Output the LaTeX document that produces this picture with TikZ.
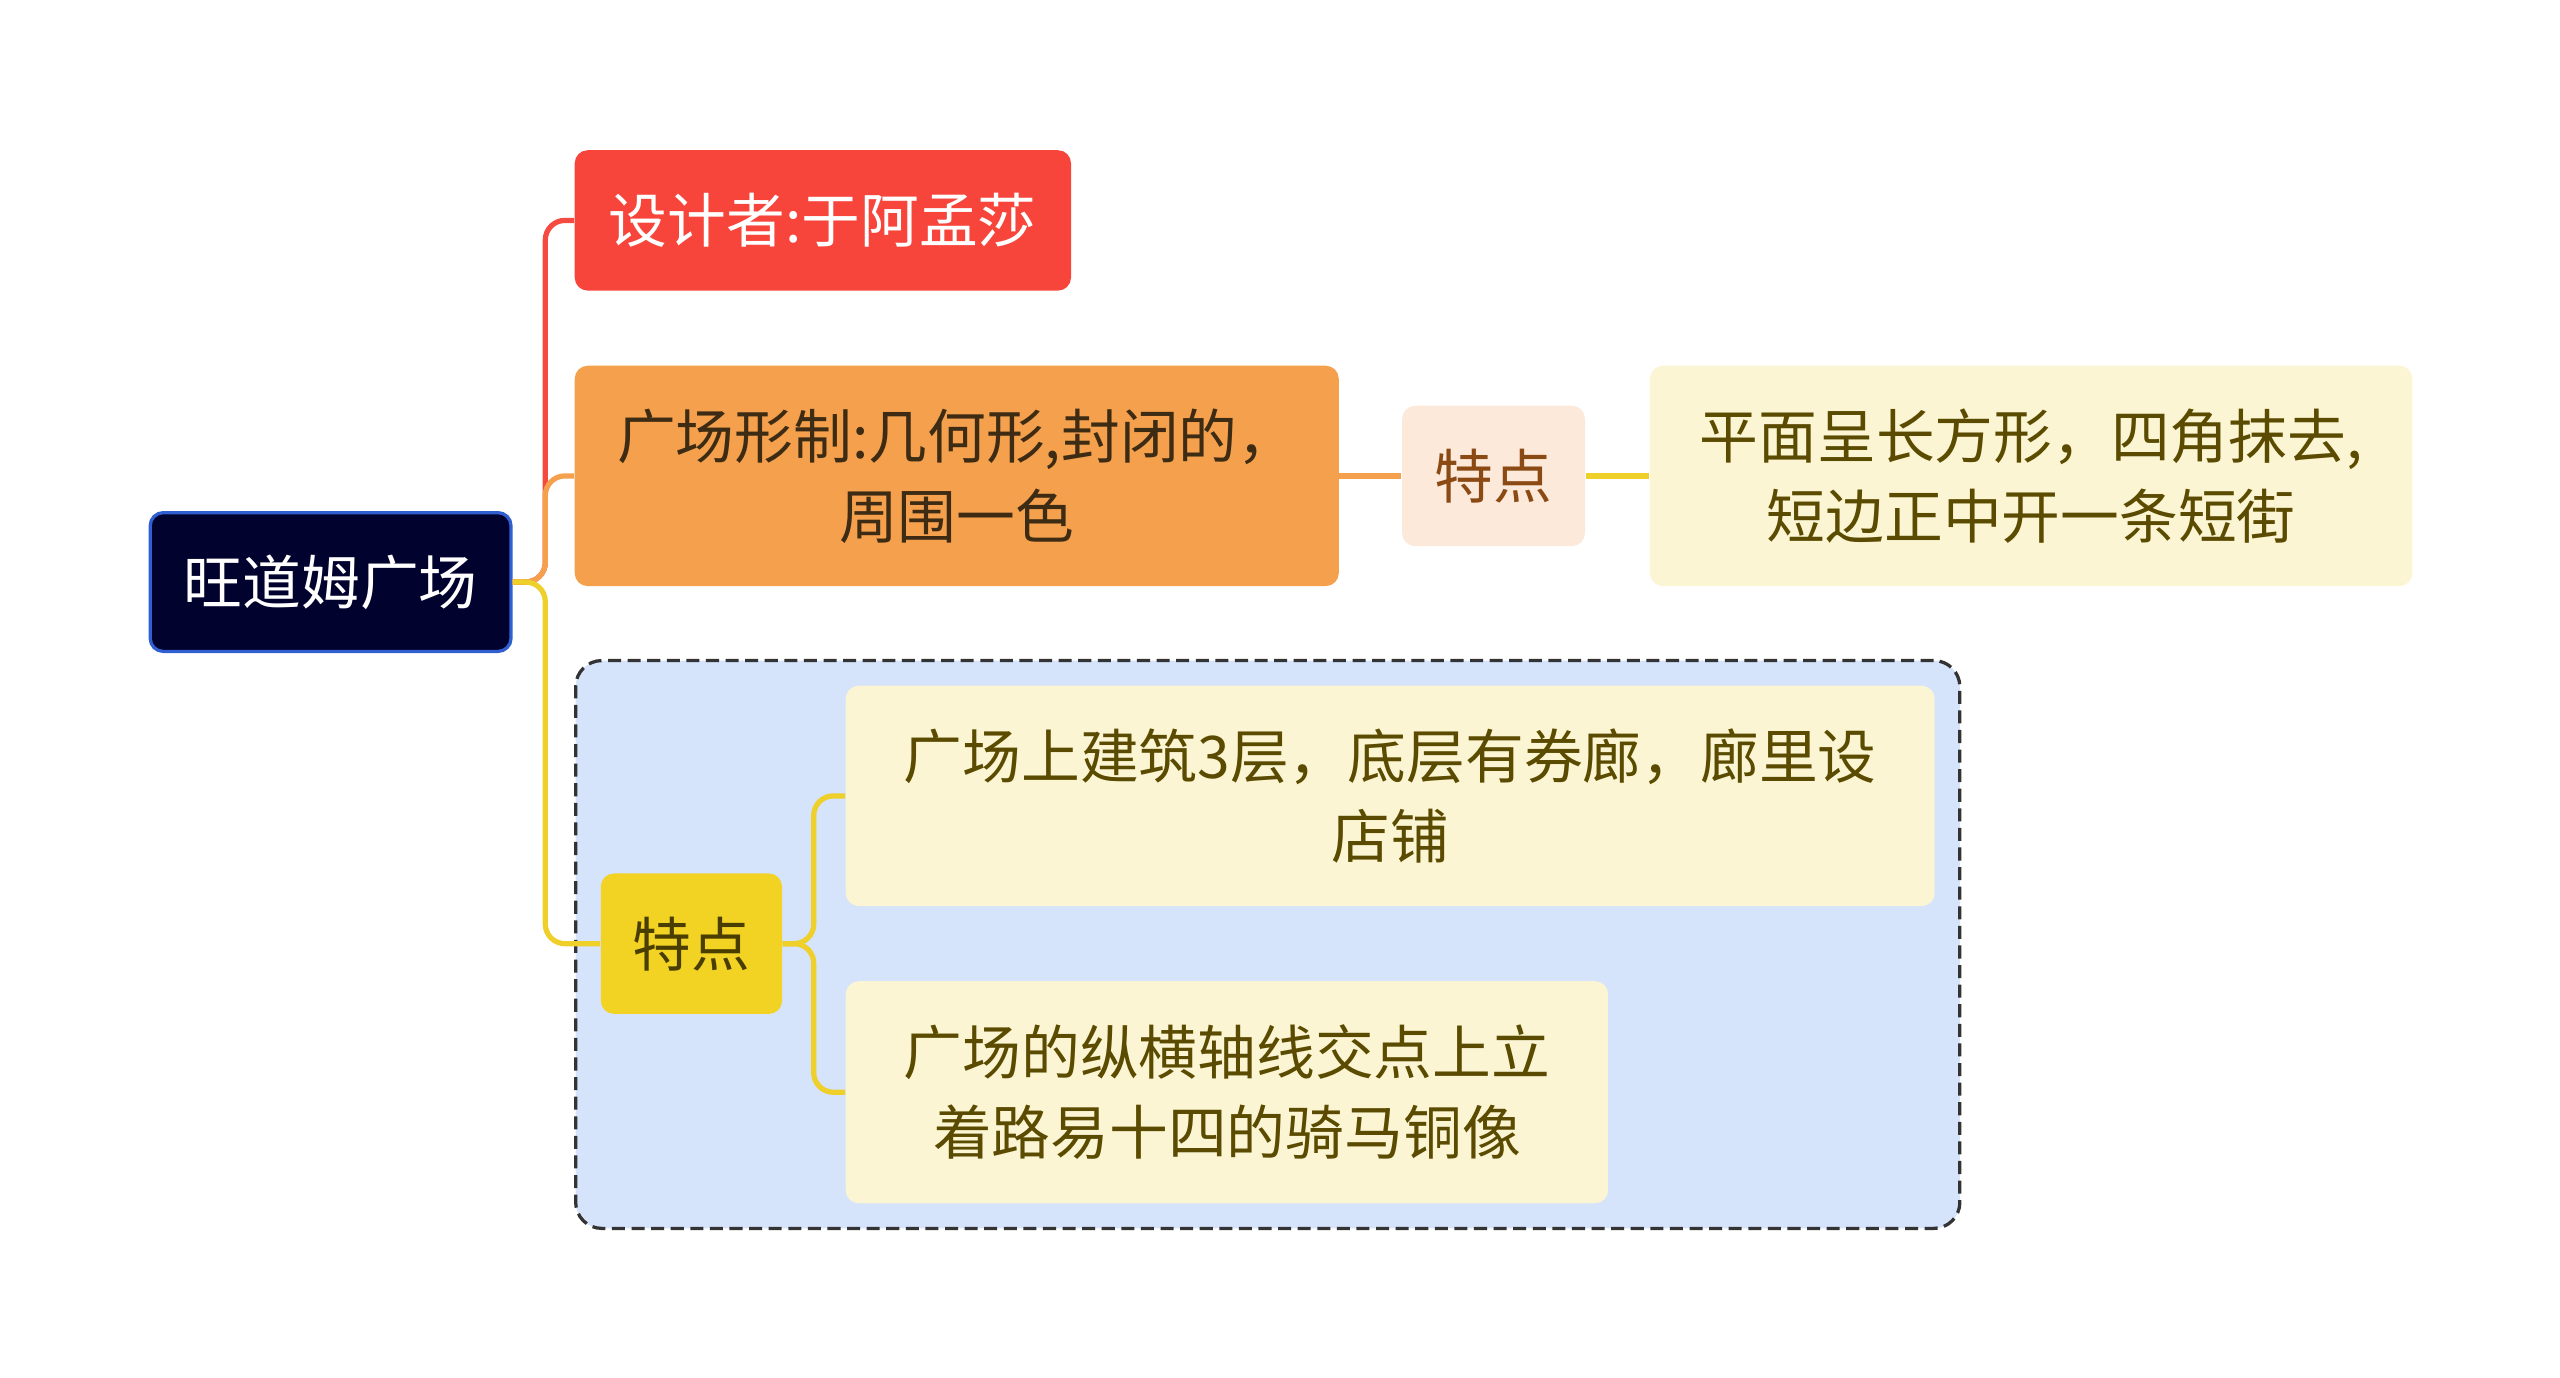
\documentclass[tikz,border=0pt]{standalone}
\usepackage{fontspec}
\setmainfont{Noto Sans CJK SC}
\usepackage{xcolor}
\usepackage{tikz}
\usetikzlibrary{positioning, fit, backgrounds}
\definecolor{rootfill}{HTML}{02022E}
\definecolor{rootedge}{HTML}{2F5FD0}
\definecolor{redfill}{HTML}{F7453C}
\definecolor{orangefill}{HTML}{F4A04D}
\definecolor{orangetext}{HTML}{3D2B14}
\definecolor{peachfill}{HTML}{FCE9DA}
\definecolor{peachtext}{HTML}{8B4A13}
\definecolor{palefill}{HTML}{FBF5D3}
\definecolor{paletext}{HTML}{5B4B00}
\definecolor{featfill}{HTML}{F2D324}
\definecolor{feattext}{HTML}{4A3D00}
\definecolor{groupfill}{HTML}{D5E3FB}
\definecolor{groupedge}{HTML}{333333}
\definecolor{redline}{HTML}{F54A3F}
\definecolor{orangeline}{HTML}{F4A04D}
\definecolor{yellowline}{HTML}{EFCF2A}

\begin{document}
\begin{tikzpicture}[
    x=0.5pt, y=-0.5pt,
    box/.style={rounded corners=4pt, align=center, inner sep=0pt, font=\fontsize{18pt}{24.5pt}\selectfont},
    link/.style={line width=1.6pt, rounded corners=6pt}
]
    \useasboundingbox (0,0) rectangle (1568,844);

    \node[box, fill=rootfill, draw=rootedge, line width=1pt, text=white, minimum width=110.5pt, minimum height=42.5pt] (root) at (202.5,356.5) {旺道姆广场};
    \node[box, fill=redfill, text=white, minimum width=152pt, minimum height=43pt] (design) at (504,135) {设计者:于阿孟莎};
    \node[box, fill=orangefill, text=orangetext, minimum width=234pt, minimum height=67.5pt] (form) at (586,291.5) {广场形制:几何形,封闭的，\\周围一色};
    \node[box, fill=peachfill, text=peachtext, minimum width=56pt, minimum height=43pt, right=19pt of form] (feat1) {特点};
    \node[box, fill=palefill, text=paletext, minimum width=233.5pt, minimum height=67.5pt, right=19.5pt of feat1] (plan) {平面呈长方形，四角抹去,\\短边正中开一条短街};
    \node[box, fill=featfill, text=feattext, minimum width=55.5pt, minimum height=43pt] (feat2) at (423.5,578) {特点};
    \node[box, fill=palefill, text=paletext, minimum width=333.5pt, minimum height=67.5pt] (arcade) at (851.5,487.5) {广场上建筑3层，底层有券廊，廊里设\\店铺};
    \node[box, fill=palefill, text=paletext, minimum width=233.5pt, minimum height=68pt] (statue) at (751.5,669) {广场的纵横轴线交点上立\\着路易十四的骑马铜像};

    \begin{scope}[on background layer]
        \node[draw=groupedge, fill=groupfill, dashed, dash pattern=on 4pt off 2pt, line width=1pt, rounded corners=8pt, inner sep=7.5pt, fit=(feat2)(arcade)(statue)] (group) {};
    \end{scope}

    \draw[link, draw=redline] (root.east) -- ++(10pt,0) |- (design.west);
    \draw[link, draw=orangeline] (root.east) -- ++(10pt,0) |- (form.west);
    \draw[link, draw=yellowline] (root.east) -- ++(10pt,0) |- (feat2.west);
    \draw[link, draw=orangeline] (form.east) -- (feat1.west);
    \draw[link, draw=yellowline] (feat1.east) -- (plan.west);
    \draw[link, draw=yellowline] (feat2.east) -- ++(9.5pt,0) |- (arcade.west);
    \draw[link, draw=yellowline] (feat2.east) -- ++(9.5pt,0) |- (statue.west);
\end{tikzpicture}
\end{document}
